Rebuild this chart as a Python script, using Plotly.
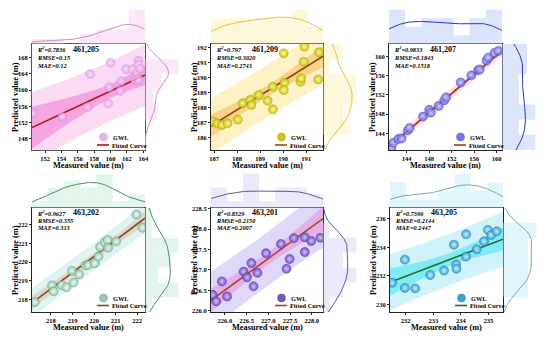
import numpy as np
import plotly.graph_objects as go

# the page body has an 8px margin: the figure is sized/positioned to compensate
OFF = 8
W, H = 542, 330

# ---------------- data ----------------
station_names = ["461,205", "461,209", "461,207", "463,202", "463,201", "463,205"]
r2_text = ["0.7836", "0.797", "0.9833", "0.9627", "0.8329", "0.7396"]
rmse_text = ["0.15", "0.3020", "0.1843", "0.355", "0.2150", "0.2144"]
mae_text = ["0.12", "0.2743", "0.1518", "0.313", "0.2007", "0.2447"]

measured_461205 = [150.5, 154.1, 157.2, 157.5, 159.7, 159.8, 160.0, 161.2, 161.3, 161.9, 162.7, 163.0, 163.2, 163.4, 163.4, 163.6, 163.4]
predicted_461205 = [154.3, 153.4, 155.8, 163.9, 156.7, 160.7, 166.7, 159.8, 162.2, 165.1, 165.1, 162.5, 164.4, 167.2, 166.2, 165.2, 162.6]

measured_461209 = [186.94, 187.12, 187.34, 187.58, 188.03, 188.24, 188.57, 188.62, 188.94, 189.33, 189.55, 189.56, 190.03, 190.06, 190.03, 190.76, 190.79, 190.93, 190.9, 191.56, 191.53]
predicted_461209 = [187.06, 186.95, 186.84, 186.95, 187.2, 188.28, 188.5, 188.17, 188.83, 188.45, 189.38, 187.88, 191.6, 189.65, 189.16, 189.71, 189.94, 192.04, 191.04, 191.67, 189.87]

measured_461207 = [141.3, 141.6, 142.5, 143.1, 144.2, 144.5, 146.9, 148.0, 148.3, 149.7, 150.7, 151.0, 153.6, 155.5, 156.7, 157.0, 158.2, 158.5, 159.6, 160.3]
predicted_461207 = [141.0, 142.0, 142.8, 142.9, 144.6, 145.1, 147.5, 148.9, 148.3, 149.7, 150.9, 151.5, 154.6, 156.1, 157.2, 157.3, 159.2, 159.8, 160.8, 161.2]

measured_463202 = [217.25, 218.05, 218.12, 218.5, 218.72, 218.97, 219.05, 219.3, 219.6, 219.72, 220.03, 220.2, 220.28, 220.5, 220.63, 220.65, 221.02, 221.96, 222.24]
predicted_463202 = [217.86, 218.75, 218.43, 218.76, 218.65, 219.53, 218.9, 219.34, 219.82, 219.85, 219.94, 220.3, 220.82, 221.07, 221.19, 220.77, 221.12, 222.56, 221.85]

measured_463201 = [225.72, 225.8, 225.93, 226.05, 226.43, 226.51, 226.61, 226.66, 226.75, 226.95, 227.29, 227.42, 227.49, 227.59, 227.84, 227.84, 227.99, 228.2]
predicted_463201 = [226.39, 226.23, 226.72, 226.35, 226.96, 226.82, 227.17, 226.6, 226.93, 227.41, 227.64, 227.03, 227.27, 227.78, 227.8, 227.44, 227.71, 227.79]

measured_463205 = [231.51, 231.97, 231.97, 232.34, 232.89, 233.39, 233.75, 233.83, 233.84, 234.19, 234.19, 234.58, 234.84, 234.98, 235.1, 235.3]
predicted_463205 = [231.52, 233.14, 231.15, 231.12, 232.06, 232.37, 234.19, 232.79, 232.5, 234.92, 233.35, 233.87, 234.43, 235.23, 234.87, 235.13]

fit_slope = [0.934, 0.9485, 1.0, 0.869, 0.776, 0.740]
fit_intercept = [10.32, 9.54, 0.3, 29.13, 51.13, 60.29]

x_ticks = [[152, 154, 156, 158, 160, 162, 164], [187, 188, 189, 190, 191], [144, 148, 152, 156, 160],
           [218, 219, 220, 221, 222], [226.0, 226.5, 227.0, 227.5, 228.0], [232, 233, 234, 235]]
y_ticks = [[148, 152, 156, 160, 164, 168], [186, 187, 188, 189, 190, 191, 192], [144, 148, 152, 156, 160],
           [218, 219, 220, 221, 222], [226.0, 226.5, 227.0, 227.5, 228.0, 228.5], [230, 232, 234, 236]]

measured_all = [measured_461205, measured_461209, measured_461207, measured_463202, measured_463201, measured_463205]
predicted_all = [predicted_461205, predicted_461209, predicted_461207, predicted_463202, predicted_463201, predicted_463205]

# ---------------- layout / style ----------------
x_ranges = [[150.4, 164.2], [186.86, 191.74], [140.85, 160.95], [217.12, 222.36], [225.68, 228.26], [231.43, 235.53]]
y_ranges = [[145.3, 171.3], [185.18, 192.22], [140.5, 162.65], [217.32, 222.91], [225.97, 228.52], [229.46, 236.77]]
tick_fmt = ["d", "d", "d", "d", ".1f", "d"]
# left, right, top, bottom in reference px
geo = [(32, 145, 44, 150), (211, 323, 44, 150), (389, 502, 44, 150),
       (32, 145, 208, 312), (211, 323, 208, 312), (390, 503, 208, 312)]
MT, MR = 35, 34

pt_color = ["#e29ae8", "#c9c200", "#5c5ce8", "#8cc7a8", "#6a42c8", "#2c9ad2"]
pt_center = ["#fbe0fb", "#fbf7a0", "#d0d4ff", "#f0fff6", "#d4c4ff", "#c8f6ff"]
pt_edge = ["#d08ad8", "#a09a00", "#4040b0", "#708878", "#4a2a98", "#1a70a0"]
pt_opacity = [0.75, 0.9, 0.85, 0.9, 0.9, 0.9]
line_color = ["#b01818", "#8b4a10", "#a83a1a", "#7a4a18", "#a04828", "#1e6e1e"]
pi_color = ["rgba(244,160,226,0.38)", "rgba(252,222,110,0.40)", "rgba(245,160,185,0.30)",
            "rgba(170,228,220,0.40)", "rgba(178,162,240,0.42)", "rgba(110,214,240,0.32)"]
ci_color = ["rgba(236,84,200,0.40)", "rgba(250,170,60,0.45)", "rgba(235,90,120,0.35)",
            "rgba(225,175,150,0.40)", "rgba(232,120,205,0.40)", "rgba(30,225,240,0.45)"]
hist_color = ["rgba(246,196,236,0.40)", "rgba(250,236,170,0.42)", "rgba(186,204,246,0.50)",
              "rgba(196,236,210,0.45)", "rgba(218,204,246,0.45)", "rgba(186,236,246,0.45)"]
kde_color = ["#d488cc", "#e2c448", "#3434c0", "#5a8a5a", "#6454a4", "#74aabb"]
frame_color = ["#555555", "#222222", "#222222", "#222222", "#222222", "#222222"]

FONT = "Liberation Serif"

def fx(px):
    return (px - OFF) / W

def fy(py):
    return 1 - (py - OFF) / H

def ax_name(kind, n):
    return kind + ("axis" if n == 1 else "axis%d" % n)

def ref(kind, n):
    return kind if n == 1 else "%s%d" % (kind, n)

def kde(data, grid):
    d = np.asarray(data, float)
    h = d.std(ddof=1) * len(d) ** (-1 / 5)
    z = (grid[:, None] - d[None, :]) / h
    return np.exp(-0.5 * z ** 2).sum(axis=1) / (len(d) * h * np.sqrt(2 * np.pi))

fig = go.Figure()
layout = dict(width=W, height=H, margin=dict(l=0, r=0, t=0, b=0), paper_bgcolor="white",
              plot_bgcolor="rgba(0,0,0,0)", showlegend=False, font=dict(family=FONT, color="black"))
annotations = []
shapes = []

for i in range(6):
    xs = np.asarray(measured_all[i], float)
    ys = np.asarray(predicted_all[i], float)
    L, R, T, B = geo[i]
    nm, nt, nr = 3 * i + 1, 3 * i + 2, 3 * i + 3
    xr, yr = x_ranges[i], y_ranges[i]
    row2 = i >= 3

    # main axes
    common = dict(showline=True, mirror=True, linecolor=frame_color[i], linewidth=1, ticks="outside",
                  ticklen=2, tickwidth=1, tickcolor="#222", showgrid=False, zeroline=False,
                  tickfont=dict(family=FONT, size=6.5, color="black", weight="bold"), automargin=False)
    layout[ax_name("x", nm)] = dict(domain=[fx(L), fx(R)], range=xr, anchor=ref("y", nm),
                                    tickvals=x_ticks[i], tickformat=tick_fmt[i], **common)
    layout[ax_name("y", nm)] = dict(domain=[fy(B), fy(T)], range=yr, anchor=ref("x", nm),
                                    tickvals=y_ticks[i], tickformat=tick_fmt[i], **common)
    # top marginal
    grid_x = np.linspace(xr[0], xr[1], 200)
    hx, ex = np.histogram(xs, bins=7, range=tuple(xr), density=True)
    kx = kde(xs, grid_x)
    layout[ax_name("x", nt)] = dict(domain=[fx(L), fx(R)], range=xr, visible=False, anchor=ref("y", nt))
    layout[ax_name("y", nt)] = dict(domain=[fy(T), fy(T - MT)], range=[0, max(hx.max(), kx.max()) * 1.02],
                                    visible=False, anchor=ref("x", nt))
    # right marginal
    grid_y = np.linspace(yr[0], yr[1], 200)
    hy, ey = np.histogram(ys, bins=7, range=tuple(yr), density=True)
    ky = kde(ys, grid_y)
    layout[ax_name("x", nr)] = dict(domain=[fx(R), fx(R + MR)], range=[0, max(hy.max(), ky.max()) * 1.02],
                                    visible=False, anchor=ref("y", nr))
    layout[ax_name("y", nr)] = dict(domain=[fy(B), fy(T)], range=yr, visible=False, anchor=ref("x", nr))

    fig.add_trace(go.Bar(x=(ex[:-1] + ex[1:]) / 2, y=hx, width=np.diff(ex), marker=dict(color=hist_color[i], line=dict(width=0)),
                         xaxis=ref("x", nt), yaxis=ref("y", nt), hoverinfo="skip"))
    fig.add_trace(go.Scatter(x=grid_x, y=kx, mode="lines", line=dict(color=kde_color[i], width=1),
                             xaxis=ref("x", nt), yaxis=ref("y", nt), hoverinfo="skip"))
    fig.add_trace(go.Bar(y=(ey[:-1] + ey[1:]) / 2, x=hy, width=np.diff(ey), orientation="h",
                         marker=dict(color=hist_color[i], line=dict(width=0)),
                         xaxis=ref("x", nr), yaxis=ref("y", nr), hoverinfo="skip"))
    fig.add_trace(go.Scatter(x=ky, y=grid_y, mode="lines", line=dict(color=kde_color[i], width=1),
                             xaxis=ref("x", nr), yaxis=ref("y", nr), hoverinfo="skip"))

    # bands around the fitted line
    b, a = fit_slope[i], fit_intercept[i]
    n = len(xs)
    resid = ys - (a + b * xs)
    s = np.sqrt((resid ** 2).sum() / (n - 2))
    xm = xs.mean()
    sxx = ((xs - xm) ** 2).sum()
    t = 2.1
    g = np.linspace(xr[0], xr[1], 120)
    yf = a + b * g
    ci = t * s * np.sqrt(1 / n + (g - xm) ** 2 / sxx)
    pi = t * s * np.sqrt(1 + 1 / n + (g - xm) ** 2 / sxx)
    for half, col in ((pi, pi_color[i]), (ci, ci_color[i])):
        fig.add_trace(go.Scatter(x=np.concatenate([g, g[::-1]]), y=np.concatenate([yf + half, (yf - half)[::-1]]),
                                 fill="toself", fillcolor=col, mode="lines", line=dict(width=0),
                                 xaxis=ref("x", nm), yaxis=ref("y", nm), hoverinfo="skip"))
    fig.add_trace(go.Scatter(x=g, y=yf, mode="lines", line=dict(color=line_color[i], width=1.6),
                             xaxis=ref("x", nm), yaxis=ref("y", nm), name="Fitted Curve"))
    fig.add_trace(go.Scatter(x=xs, y=ys, mode="markers", name="GWL", opacity=pt_opacity[i],
                             marker=dict(size=9, color=pt_color[i], gradient=dict(type="radial", color=pt_center[i]),
                                         line=dict(width=0.5, color=pt_edge[i])),
                             xaxis=ref("x", nm), yaxis=ref("y", nm)))

    # texts
    st_font = dict(family=FONT, size=6.3, color="black", weight="bold", style="italic")
    ys_txt = [T + 4.5, T + 12, T + 19.5] if row2 else [T + 5.3, T + 13.5, T + 21.7]
    for txt, yy in zip(["R<sup>2</sup>=" + r2_text[i], "RMSE=" + rmse_text[i], "MAE=" + mae_text[i]], ys_txt):
        annotations.append(dict(text=txt, x=fx(L + 3), y=fy(yy), xref="paper", yref="paper", showarrow=False,
                                xanchor="left", yanchor="middle", font=st_font))
    annotations.append(dict(text=station_names[i], x=fx(L + 54), y=fy(T + (4.5 if row2 else 5.3)), xref="paper",
                            yref="paper", showarrow=False, xanchor="center", yanchor="middle",
                            font=dict(family=FONT, size=8, color="black", weight="bold")))
    ttl_font = dict(family=FONT, size=8.3, color="black", weight="bold")
    annotations.append(dict(text="Measured value (m)", x=fx((L + R) / 2), y=fy(B + 15.5),
                            xref="paper", yref="paper", showarrow=False, xanchor="center", yanchor="middle",
                            font=ttl_font))
    annotations.append(dict(text="Predicted value (m)", x=fx(L - 17), y=fy((T + B) / 2), xref="paper", yref="paper",
                            showarrow=False, xanchor="center", yanchor="middle", textangle=-90, font=ttl_font))

    # legend (drawn in paper space)
    gy = B - (14 if row2 else 13)
    fy2 = B - (6.5 if row2 else 5)
    shapes.append(dict(type="circle", xref="paper", yref="paper", x0=fx(R - 45.5), x1=fx(R - 37.5),
                       y0=fy(gy + 4), y1=fy(gy - 4), fillcolor=pt_color[i], line=dict(color=pt_edge[i], width=0.5),
                       opacity=pt_opacity[i]))
    shapes.append(dict(type="line", xref="paper", yref="paper", x0=fx(R - 48), x1=fx(R - 36), y0=fy(fy2), y1=fy(fy2),
                       line=dict(color=line_color[i], width=1.6)))
    lg_font = dict(family=FONT, size=6.3, color="black", weight="bold")
    annotations.append(dict(text="GWL", x=fx(R - 34), y=fy(gy), xref="paper", yref="paper", showarrow=False,
                            xanchor="left", yanchor="middle", font=lg_font))
    annotations.append(dict(text="Fitted Curve", x=fx(R - 35), y=fy(fy2), xref="paper", yref="paper", showarrow=False,
                            xanchor="left", yanchor="middle", font=lg_font))

layout["annotations"] = annotations
layout["shapes"] = shapes
fig.update_layout(**layout)
fig.write_html("out.html")
